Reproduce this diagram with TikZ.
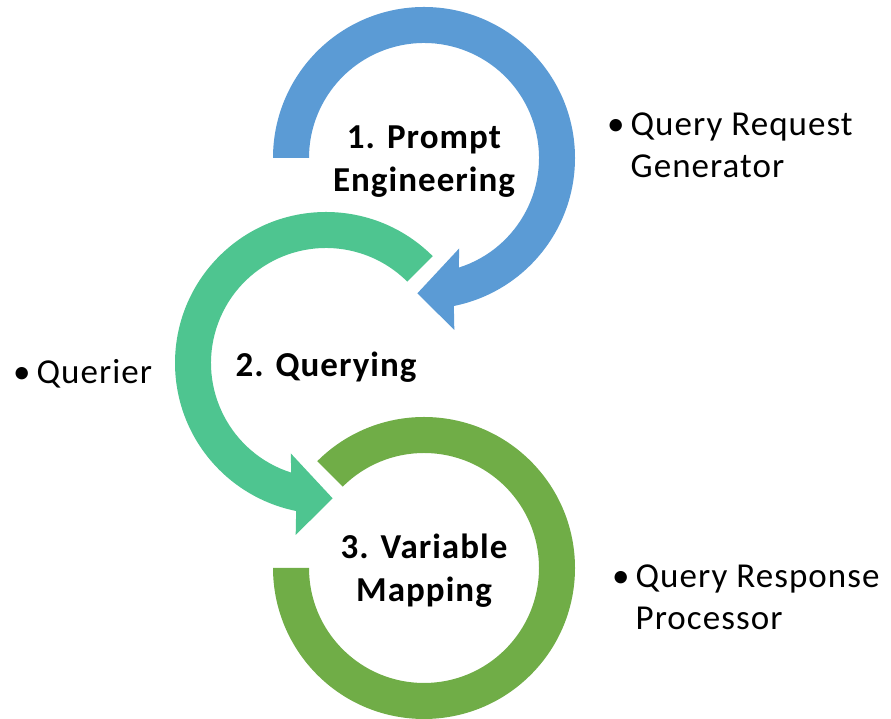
\documentclass[tikz,border=0pt]{standalone}
\usepackage{fontspec}
\usepackage{xcolor}
\usepackage{tikz}
\usetikzlibrary{calc,positioning}
\setmainfont{Carlito}[LetterSpace=3]
\newfontfamily\stagefont{Carlito}[LetterSpace=3,BoldFont={Carlito Bold}]
\definecolor{ringA}{HTML}{5B9BD5}
\definecolor{ringB}{HTML}{4EC590}
\definecolor{ringC}{HTML}{70AD47}

\begin{document}
\begin{tikzpicture}[x=1pt,y=1pt,
    stage/.style={align=center, font=\stagefont\bfseries\fontsize{35}{43}\selectfont},
    note/.style={anchor=base west, inner sep=0pt, font=\fontsize{35}{42}\selectfont}]
  \useasboundingbox (0,0) rectangle (891,719);

  % ring centres
  \coordinate (B) at (424,561);
  \coordinate (T) at (326,356);
  \coordinate (G) at (424,151);

  % Ring 1: clockwise from the left, arrow head at the bottom
  \fill[ringA] ($(B)+(180:151)$) arc[start angle=180, end angle=-78.6, radius=151]
    -- ($(B)+(-80:174.6)$) -- ($(B)+(-92.8:135.5)$) -- ($(B)+(-68.7:97)$)
    -- ($(B)+(-72.4:115)$) arc[start angle=-72.4, end angle=180, radius=115] -- cycle;

  % Ring 2: counter-clockwise from the top right, arrow head at the bottom
  \fill[ringB] ($(T)+(45:151)$) arc[start angle=45, end angle=258.6, radius=151]
    -- ($(T)+(260:174.6)$) -- ($(T)+(272.8:135.5)$) -- ($(T)+(248.7:97)$)
    -- ($(T)+(252.4:115)$) arc[start angle=252.4, end angle=45, radius=115] -- cycle;

  % Ring 3: open ring, no head
  \fill[ringC] ($(G)+(135:151)$) arc[start angle=135, end angle=-180, radius=151]
    -- ($(G)+(180:115)$) arc[start angle=-180, end angle=135, radius=115] -- cycle;

  % stage names
  \node[stage] (prompt) at ($(B)+(0,-4)$) {1. Prompt\\Engineering};
  \node[stage] (query) at ($(T)+(0,-4)$) {2. Querying};
  \node[stage] (mapping) at ($(G)+(0,-3)$) {3. Variable\\Mapping};

  % components of each stage
  \node[note] (generator) at (607,583)
    {\begin{tabular}[t]{@{}l@{\hspace{6pt}}l@{}}\textbullet & Query Request\\ & Generator\end{tabular}};
  \node[note] (querier) at (13,335)
    {\begin{tabular}[t]{@{}l@{\hspace{6pt}}l@{}}\textbullet & Querier\end{tabular}};
  \node[note] (processor) at (612,131)
    {\begin{tabular}[t]{@{}l@{\hspace{6pt}}l@{}}\textbullet & Query Response\\ & Processor\end{tabular}};
\end{tikzpicture}
\end{document}
